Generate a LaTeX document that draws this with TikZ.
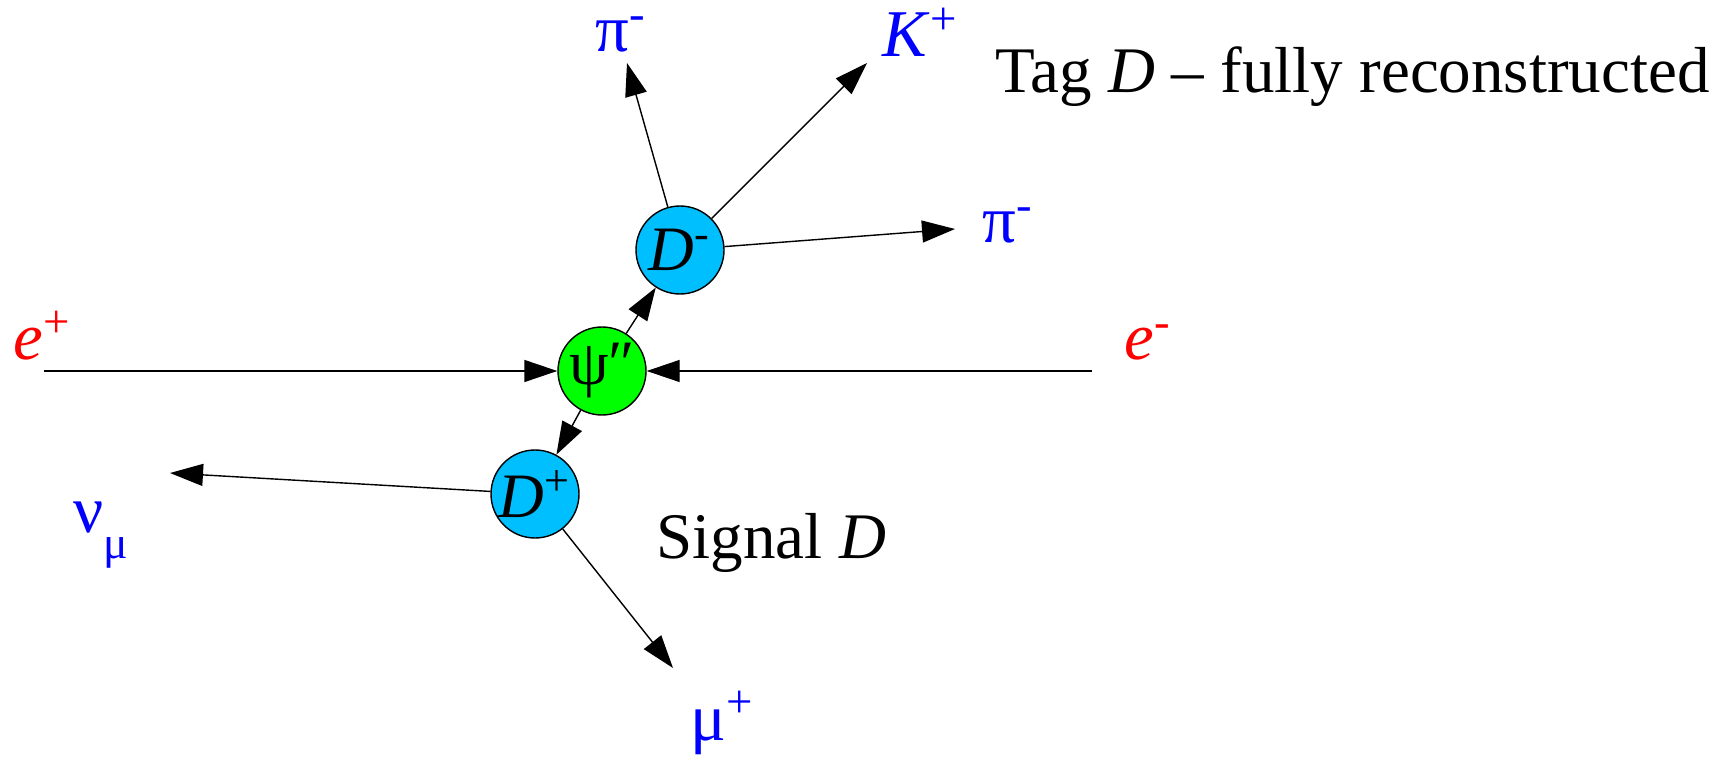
\documentclass[tikz,border=0pt]{standalone}
\usepackage{fontspec}
\setmainfont{Liberation Serif}
\usetikzlibrary{arrows.meta}
\definecolor{dblue}{RGB}{0,191,255}
\definecolor{psigreen}{RGB}{0,255,0}
\definecolor{pblue}{RGB}{0,0,255}
\definecolor{pred}{RGB}{255,0,0}

\begin{document}
\begin{tikzpicture}[line width=0.4pt,>={Triangle[length=0.33cm,width=0.22cm]},
  ball/.style={circle,draw,minimum size=0.88cm,inner sep=0pt,font=\fontsize{18}{18}\selectfont},
  lbl/.style={anchor=base west,inner sep=0pt,font=\fontsize{19}{19}\selectfont},
  txt/.style={anchor=base west,inner sep=0pt,font=\fontsize{18.5}{20}\selectfont}]
  \useasboundingbox (0,0) rectangle (17.21,7.56);

  \node[ball,fill=psigreen] (psi) at (6.02,3.85) {ψ\symbol{"2033}};
  \node[ball,fill=dblue] (Dm) at (6.80,5.06) {\textit{D}\textsuperscript{-}};
  \node[ball,fill=dblue] (Dp) at (5.35,2.62) {\textit{D}\textsuperscript{+}};

  \coordinate (eplus) at (0.44,3.85);
  \coordinate (eminus) at (10.92,3.85);
  \coordinate (tpia) at (6.27,6.93);
  \coordinate (tK) at (8.67,6.93);
  \coordinate (tpib) at (9.55,5.27);
  \coordinate (tnu) at (1.70,2.83);
  \coordinate (tmu) at (6.73,0.88);

  \draw[->] (eplus) -- (psi);
  \draw[->] (eminus) -- (psi);
  \draw[->] (psi) -- (Dm);
  \draw[->] (psi) -- (Dp);
  \draw[->] (Dm) -- (tpia);
  \draw[->] (Dm) -- (tK);
  \draw[->] (Dm) -- (tpib);
  \draw[->] (Dp) -- (tnu);
  \draw[->] (Dp) -- (tmu);

  \node[lbl,pred] (ep) at (0.13,3.96) {\textit{e}\textsuperscript{+}};
  \node[lbl,pred] (em) at (11.24,3.96) {\textit{e}\textsuperscript{-}};
  \node[lbl,pblue] (pia) at (5.95,7.04) {π\textsuperscript{-}};
  \node[lbl,pblue] (K) at (8.82,6.99) {\textit{K}\textsuperscript{+}};
  \node[lbl,pblue] (pib) at (9.82,5.13) {π\textsuperscript{-}};
  \node[lbl,pblue] (nu) at (0.73,2.24) {ν\raisebox{-0.26cm}{\fontsize{13}{13}\selectfont μ}};
  \node[lbl,pblue] (mu) at (6.90,0.16) {μ\textsuperscript{+}};

  \node[txt] (tag) at (9.95,6.63) {Tag \textit{D} – fully reconstructed};
  \node[txt] (sig) at (6.56,1.98) {Signal \textit{D}};
\end{tikzpicture}
\end{document}
